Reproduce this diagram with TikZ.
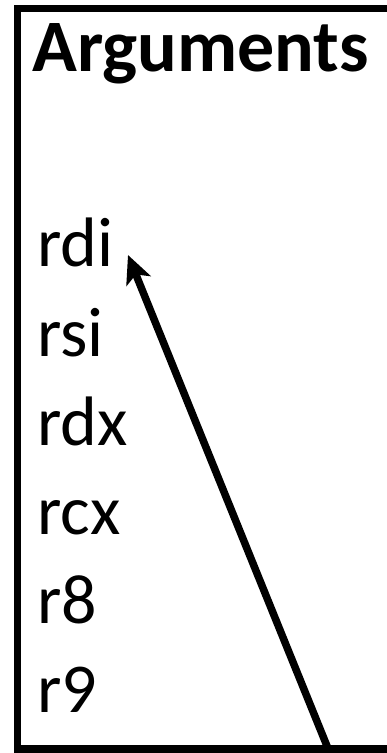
\documentclass[tikz,border=0pt]{standalone}
\usepackage{fontspec}
\setmainfont{Carlito}
\usetikzlibrary{arrows.meta,calc}
\begin{document}
\begin{tikzpicture}[x=1pt,y=1pt,
  item/.style={anchor=base west,inner sep=0pt,font=\fontsize{70}{80}\selectfont},
  title/.style={anchor=base west,inner sep=0pt,font=\fontsize{74}{80}\selectfont\bfseries},
  conn/.style={line width=7.5pt,-{Stealth[length=28pt,width=26pt,inset=7pt]}}]
\useasboundingbox (0,0) rectangle (387,753);
\fill[white] (0,0) rectangle (387,753);
\clip (0,0) rectangle (387,753);
\draw[line width=7.5pt] (17.5,4) rectangle (420,744.5);
\node[title] (t) at (32,681) {Arguments};
\node[item] (rdi) at (37,486) {rdi};
\node[item] (rsi) at (37,396.8) {rsi};
\node[item] (rdx) at (37,307.6) {rdx};
\node[item] (rcx) at (37,218.4) {rcx};
\node[item] (r8) at (37,129.2) {r8};
\node[item] (r9) at (37,40) {r9};
\coordinate (start) at (329,2);
\coordinate (tip) at (128,498);
\draw[conn] (start) -- (tip);
\end{tikzpicture}
\end{document}
